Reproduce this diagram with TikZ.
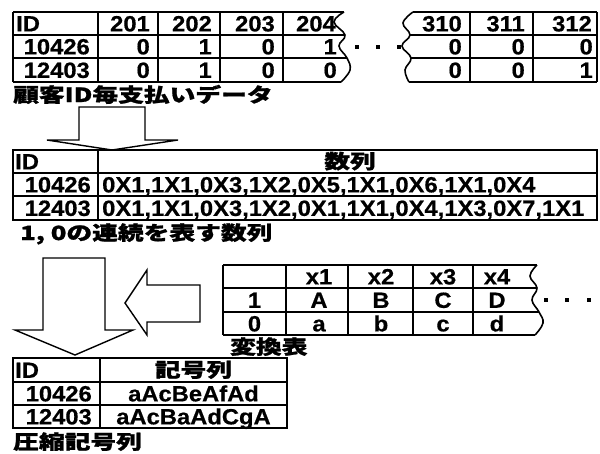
\documentclass[tikz,border=0pt]{standalone}
\usepackage{fontspec}
\setmainfont{Liberation Sans}[FakeStretch=1.08, BoldFeatures={FakeBold=0.6}]
\newfontfamily\jpfont{Noto Sans CJK JP}[FakeStretch=1.32, BoldFeatures={FakeBold=1.2}]
\begin{document}
\begin{tikzpicture}[x=1pt, y=-1pt,
    grid_style/.style={line width=1.6pt, line join=miter},
    cell_style/.style={font=\fontsize{22}{22}\selectfont\bfseries, inner sep=0pt, text height=15.7pt, text depth=0pt},
    jp_style/.style={font=\jpfont\bfseries\fontsize{19.5}{19.5}\selectfont, inner sep=0pt, text height=16.5pt, text depth=2.5pt},
    arrow_style/.style={line width=1.4pt, line join=miter, fill=white},
    dot_style/.style={fill=black, minimum size=4pt, inner sep=0pt}
]
\useasboundingbox (0,0) rectangle (600,453);
% Tableau 1 : partie gauche
\draw[grid_style] (13,12) -- (13,82);
\foreach \x in {98,158,220,283} \draw[grid_style] (\x,12) -- (\x,82);
\foreach \y/\w in {12/344,35/345,58/347,82/341} \draw[grid_style] (13,\y) -- (\w,\y);
\draw[grid_style] plot[smooth, tension=0.7] coordinates {(344,12) (334,22) (345,35) (339,46) (347,58) (350,70) (341,82)};
% Tableau 1 : partie droite
\draw[grid_style] plot[smooth, tension=0.7] coordinates {(413,12) (403,23) (410,35) (402,46) (411,58) (405,70) (409,82)};
\foreach \y/\w in {12/413,35/410,58/411,82/409} \draw[grid_style] (\w,\y) -- (597,\y);
\foreach \x in {470,533,597} \draw[grid_style] (\x,12) -- (\x,82);
\node[cell_style, anchor=west] (t1id) at (16,23.5) {ID};
\foreach \name/\x in {201/150, 202/212, 203/275, 204/336, 310/462, 311/525, 312/592}
    \node[cell_style, anchor=east] (h\name) at (\x,23.5) {\name};
\foreach \id/\y/\vals in {10426/46.5/{0,1,0,1,0,0,0}, 12403/70/{0,1,0,0,0,0,1}} {
    \node[cell_style, anchor=east] (t1r\id) at (90,\y) {\id};
    \foreach \v [count=\k] in \vals {
        \pgfmathsetmacro\cx{{150,212,275,337,462,525,593}[\k-1]}
        \node[cell_style, anchor=east] (v\id-\k) at (\cx,\y) {\v};
    }
}
\foreach \x [count=\k] in {357,378,399} \node[dot_style] (dotA\k) at (\x,46.5) {};
\node[jp_style, anchor=west] (lab1) at (13,95) {顧客ID毎支払いデータ};
% Fleche 1
\draw[arrow_style] (79,107) -- (145,107) -- (145,140) -- (178,140) -- (112,150) -- (47,140) -- (79,140) -- cycle;
% Tableau 2
\draw[grid_style] (13,150) rectangle (597,220);
\foreach \y in {173,196} \draw[grid_style] (13,\y) -- (597,\y);
\draw[grid_style] (98,150) -- (98,220);
\node[cell_style, anchor=west] (t2id) at (15,161.5) {ID};
\node[jp_style] (t2head) at (350,161.5) {数列};
\foreach \id/\y/\seq in {10426/184.5/{0X1,1X1,0X3,1X2,0X5,1X1,0X6,1X1,0X4}, 12403/208/{0X1,1X1,0X3,1X2,0X1,1X1,0X4,1X3,0X7,1X1}} {
    \node[cell_style, anchor=east] (t2r\id) at (91,\y) {\id};
    \node[cell_style, anchor=west] (t2s\id) at (102,\y) {\seq};
}
\node[jp_style, anchor=west] (lab2) at (20,233) {1, 0の連続を表す数列};
% Fleches 2 et 3
\draw[arrow_style] (43,258) -- (105,258) -- (105,330) -- (133,330) -- (75,355) -- (15,330) -- (43,330) -- cycle;
\draw[arrow_style] (200,285) -- (147,285) -- (147,270) -- (125,303) -- (147,335) -- (147,322) -- (200,322) -- cycle;
% Tableau 3 : table de conversion
\draw[grid_style] (223,265) -- (223,335);
\foreach \x in {286,348,413,473} \draw[grid_style] (\x,265) -- (\x,335);
\foreach \y/\w in {265/537,288/537,312/539,335/535} \draw[grid_style] (223,\y) -- (\w,\y);
\draw[grid_style] plot[smooth, tension=0.7] coordinates {(537,265) (530,276) (537,288) (532,300) (539,312) (543,323) (535,335)};
\foreach \t/\x in {x1/319, x2/381, x3/443, x4/497} \node[cell_style] (h\t) at (\x,276.5) {\t};
\foreach \t/\x in {1/254.5, A/319, B/381, C/443, D/497} \node[cell_style] (one\t) at (\x,300) {\t};
\foreach \t/\x in {0/254.5, a/319, b/381, c/443, d/497} \node[cell_style] (zero\t) at (\x,323.5) {\t};
\foreach \x [count=\k] in {546,567,589} \node[dot_style] (dotB\k) at (\x,300) {};
\node[jp_style, anchor=west] (lab3) at (230,347) {変換表};
% Tableau 4
\draw[grid_style] (13,358) rectangle (287,428);
\foreach \y in {382,405} \draw[grid_style] (13,\y) -- (287,\y);
\draw[grid_style] (100,358) -- (100,428);
\node[cell_style, anchor=west] (t4id) at (15,370) {ID};
\node[jp_style] (t4head) at (193.5,370) {記号列};
\foreach \id/\y/\code in {10426/393.5/aAcBeAfAd, 12403/416.5/aAcBaAdCgA} {
    \node[cell_style, anchor=east] (t4r\id) at (92,\y) {\id};
    \node[cell_style] (t4c\id) at (193.5,\y) {\code};
}
\node[jp_style, anchor=west] (lab4) at (13,442) {圧縮記号列};
\end{tikzpicture}
\end{document}
